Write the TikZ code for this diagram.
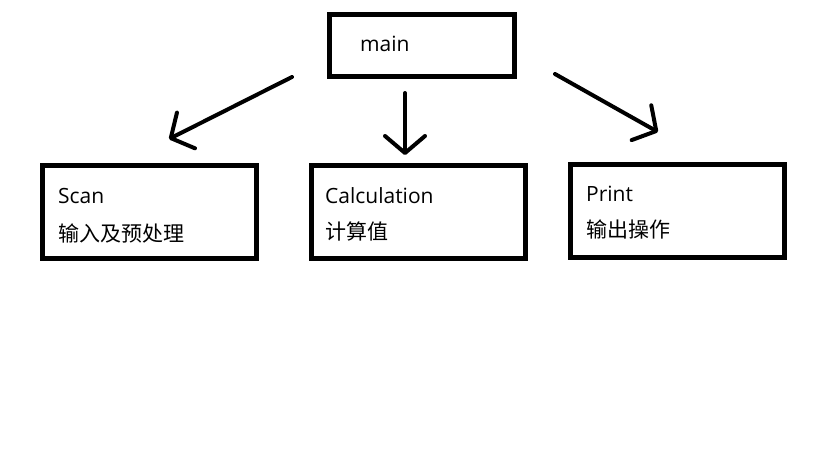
\documentclass[tikz,border=0pt]{standalone}
\usepackage{fontspec}
\setmainfont{Open Sans}
\newfontfamily\cjk{Noto Sans CJK SC}
\usetikzlibrary{arrows.meta}

\tikzset{
	box/.style={draw, line width=5pt, inner sep=0pt, minimum width=214pt, minimum height=93pt},
	lbl/.style={anchor=base west, inner sep=0pt, font=\fontsize{21pt}{24pt}\selectfont},
	flow/.style={line width=4pt, line cap=round, line join=round,
		-{Straight Barb[length=17pt, width=40pt, round]}}
}

\begin{document}
\begin{tikzpicture}[x=1pt, y=-1pt]
	\useasboundingbox (0,0) rectangle (819,460);
	
	% boxes
	\node[box, minimum width=185pt, minimum height=62pt] (main) at (422,45.5) {};
	\foreach \name/\x/\y in {scan/149/212.25, calc/418.5/212, print/677.5/211}
	\node[box] (\name) at (\x,\y) {};
	
	% texts
	\node[lbl] (mainT) at (360,52) {main};
	\node[lbl] (scanT) at (58,203) {Scan};
	\node[lbl] (scanC) at (58,241) {\cjk 输入及预处理};
	\node[lbl] (calcT) at (325,203) {Calculation};
	\node[lbl] (calcC) at (325,239) {\cjk 计算值};
	\node[lbl] (printT) at (586,201) {Print};
	\node[lbl] (printC) at (586,237) {\cjk 输出操作};
	
	% arrows
	\coordinate (a1) at (292,77);
	\coordinate (b1) at (169,139);
	\coordinate (a2) at (405,93);
	\coordinate (b2) at (405,155);
	\coordinate (a3) at (555,74);
	\coordinate (b3) at (658,132);
	\foreach \i in {1,2,3}
	\draw[flow] (a\i) -- (b\i);
\end{tikzpicture}
\end{document}
